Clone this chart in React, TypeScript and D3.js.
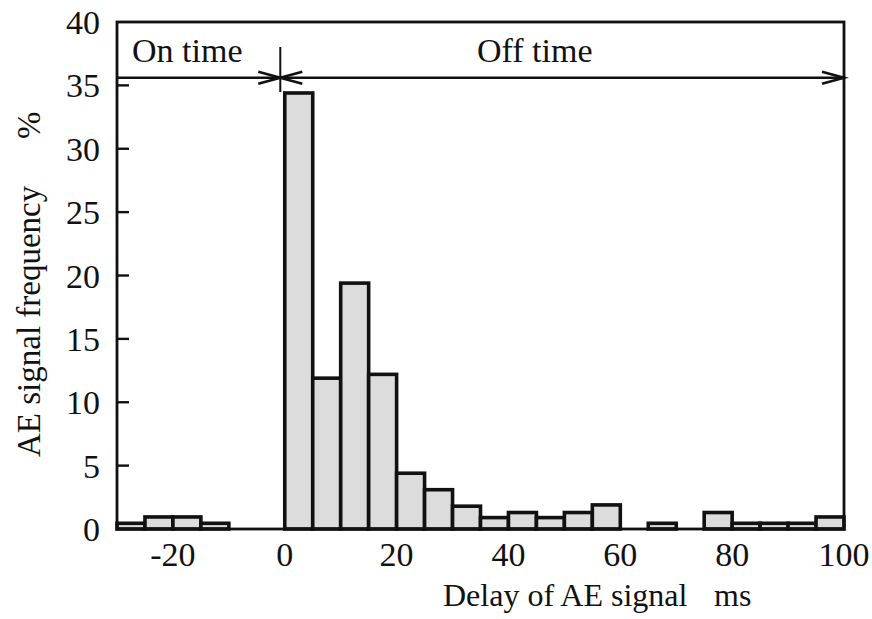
import React from "react";
import * as d3 from "d3";

const binStarts = [-30, -25, -20, -15, -10, -5, 0, 5, 10, 15, 20, 25, 30, 35, 40, 45, 50, 55, 60, 65, 70, 75, 80, 85, 90, 95];
const frequency = [0.45, 0.95, 0.95, 0.45, 0, 0, 34.4, 11.9, 19.4, 12.2, 4.4, 3.1, 1.8, 0.9, 1.3, 0.9, 1.3, 1.9, 0, 0.45, 0, 1.3, 0.45, 0.45, 0.45, 0.95];
const binWidth = 5;
const xTicks = [-20, 0, 20, 40, 60, 80, 100];
const yTicks = [0, 5, 10, 15, 20, 25, 30, 35, 40];
const xDomain = [-30, 100];
const yDomain = [0, 40];
const arrowLevel = 35.6;
const boundary = -0.8;

const W = 872, H = 619;
const M = { left: 117, right: 844, top: 22, bottom: 529 };
const FONT = "'Liberation Serif', 'Times New Roman', serif";

export default function App() {
  const x = d3.scaleLinear().domain(xDomain).range([M.left, M.right]);
  const y = d3.scaleLinear().domain(yDomain).range([M.bottom, M.top]);
  const ay = y(arrowLevel);
  const bx = x(boundary);
  const head = (tipX: number, dir: number) =>
    `M${tipX - dir * 22},${ay - 6} L${tipX},${ay} L${tipX - dir * 22},${ay + 6}`;

  return (
    <svg width={W} height={H} style={{ position: "absolute", left: 0, top: 0, background: "#fff" }} fontFamily={FONT}>
      {binStarts.map((s, i) =>
        frequency[i] > 0 ? (
          <rect key={i} x={x(s)} y={y(frequency[i])} width={x(s + binWidth) - x(s)} height={y(0) - y(frequency[i])}
            fill="#dcdcdc" stroke="#111" strokeWidth={3.6} />
        ) : null
      )}
      <rect x={M.left} y={M.top} width={M.right - M.left} height={M.bottom - M.top} fill="none" stroke="#111" strokeWidth={2.8} />
      {yTicks.slice(1, -1).map((t) => (
        <line key={t} x1={M.left} x2={M.left + 12} y1={y(t)} y2={y(t)} stroke="#111" strokeWidth={2.4} />
      ))}
      {yTicks.map((t) => (
        <text key={t} x={100} y={y(t) + 12} textAnchor="end" fontSize={34} fill="#111">{t}</text>
      ))}
      {xTicks.map((t) => (
        <text key={t} x={x(t)} y={566} textAnchor="middle" fontSize={34} fill="#111">{t}</text>
      ))}
      <line x1={M.left} x2={M.right} y1={ay} y2={ay} stroke="#111" strokeWidth={2.4} />
      <line x1={bx} x2={bx} y1={47} y2={92} stroke="#111" strokeWidth={2} />
      <path d={head(bx, 1)} fill="none" stroke="#111" strokeWidth={2.6} />
      <path d={head(bx, -1)} fill="none" stroke="#111" strokeWidth={2.6} />
      <path d={head(M.right, 1)} fill="none" stroke="#111" strokeWidth={2.6} />
      <text x={132} y={62} fontSize={34} fill="#111">On time</text>
      <text x={477} y={62} fontSize={34} fill="#111">Off time</text>
      <text x={443} y={606} fontSize={32} fill="#111">Delay of AE signal</text>
      <text x={714} y={606} fontSize={32} fill="#111">ms</text>
      <text transform="translate(40,457) rotate(-90)" fontSize={33} fill="#111">AE signal frequency</text>
      <text transform="translate(40,139) rotate(-90)" fontSize={33} fill="#111">%</text>
    </svg>
  );
}
